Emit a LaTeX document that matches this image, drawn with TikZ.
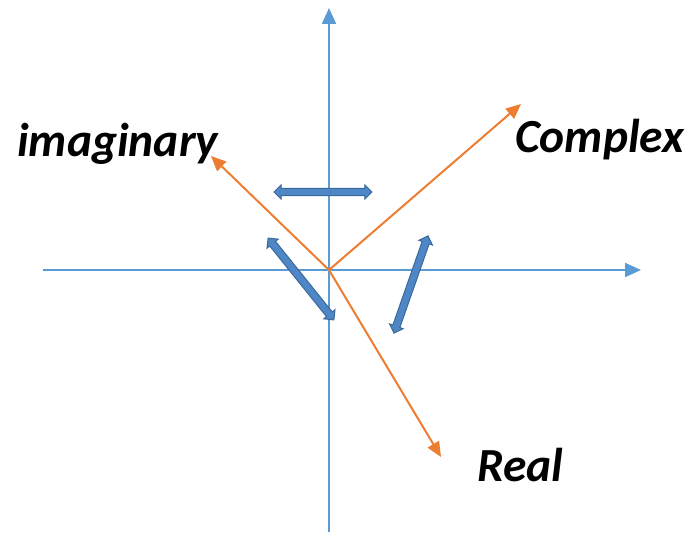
\documentclass[tikz,border=0pt]{standalone}
\usepackage{fontspec}
\setmainfont{Carlito}
\usetikzlibrary{arrows.meta,shapes.arrows}
\definecolor{axisblue}{HTML}{5B9BD5}
\definecolor{arrowfill}{HTML}{4F86C6}
\definecolor{arrowline}{HTML}{3A6A9C}
\definecolor{vecorange}{HTML}{ED7D31}
\begin{document}
\begin{tikzpicture}[x=1pt,y=-1pt,
  axis/.style={draw=axisblue,line width=2pt,-{Triangle[width=14pt,length=16pt]}},
  vec/.style={draw=vecorange,line width=2pt,-{Triangle[width=13pt,length=15pt]}},
  lbl/.style={font=\fontsize{47.5}{52}\selectfont\bfseries\itshape,inner sep=0pt,anchor=base west},
  blockarrow/.style={double arrow,draw=arrowline,fill=arrowfill,line width=1pt,
    inner xsep=0pt,inner ysep=3.2pt,text height=0pt,text depth=0pt,
    double arrow head extend=3.5pt,minimum height=#1}]
\useasboundingbox (0,0) rectangle (694,534);
\coordinate (O) at (329,270);
\coordinate (yb) at (329,532);
\coordinate (yt) at (329,8);
\coordinate (xl) at (43,270);
\coordinate (xr) at (641,270);
\draw[axis] (yb) -- (yt);
\draw[axis] (xl) -- (xr);
\coordinate (ti) at (211,156);
\coordinate (tc) at (521,104);
\coordinate (tr) at (441,457);
\draw[vec] (O) -- (ti);
\draw[vec] (O) -- (tc);
\draw[vec] (O) -- (tr);
\node[blockarrow=98pt] (b1) at (323,192) {};
\node[blockarrow=105pt,rotate=-51.2] (b2) at (301,279) {};
\node[blockarrow=103pt,rotate=70.7] (b3) at (411,284.5) {};
\node[lbl] (limag) at (17,157) {imaginary};
\node[lbl] (lcomp) at (515,153) {Complex};
\node[lbl] (lreal) at (477,482) {Real};
\end{tikzpicture}
\end{document}
